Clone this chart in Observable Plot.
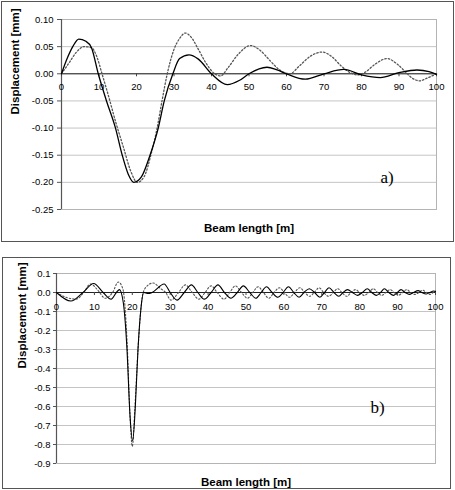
<!DOCTYPE html>
<html>
<head>
<meta charset="utf-8">
<script src="https://cdn.jsdelivr.net/npm/d3@7"></script>
<script src="https://cdn.jsdelivr.net/npm/@observablehq/plot@0.6"></script>
<style>
  body { margin: 0; background: #fff; }
  .panel { position: absolute; border: 1px solid #555; background: #fff; }
  .panel svg { display: block; }
</style>
</head>
<body>
<div id="pa" class="panel" style="left:1px;top:1px;width:451px;height:239px;"></div>
<div id="pb" class="panel" style="left:2px;top:257px;width:447px;height:230px;"></div>
<script>
// ---------- shared ----------
const xTicks = [0, 10, 20, 30, 40, 50, 60, 70, 80, 90, 100];
const xTickLabels = ["0", "10", "20", "30", "40", "50", "60", "70", "80", "90", "100"];
const xTitle = "Beam length [m]";
const yTitle = "Displacement [mm]";

// ---------- panel a ----------
const yTicksA = [0.10, 0.05, 0.00, -0.05, -0.10, -0.15, -0.20, -0.25];
const yTickLabelsA = ["0.10", "0.05", "0.00", "-0.05", "-0.10", "-0.15", "-0.20", "-0.25"];
const tagA = "a)";
// solid series [x, displacement]
const solidA = [
  [0, 0], [1.5, 0.028], [3, 0.05], [4.6, 0.064], [6.5, 0.06], [8, 0.048], [9.8, 0],
  [12, -0.05], [14.4, -0.1], [16.2, -0.15], [17.8, -0.185], [19.3, -0.2], [21.3, -0.19],
  [23.6, -0.15], [25.8, -0.1], [27.4, -0.05], [29.7, 0], [31.5, 0.028], [34, 0.035],
  [36.5, 0.027], [40, 0], [44.2, -0.02], [47.5, -0.012], [50, 0], [54.8, 0.012],
  [57.5, 0.007], [60, 0], [65, -0.01], [70, 0], [75.3, 0.008], [80, -0.002], [85, -0.007],
  [90, 0.002], [94.8, 0.007], [98, 0.004], [100, -0.001]
];
// dotted series
const dottedA = [
  [0, 0], [2, 0.02], [4, 0.04], [6, 0.05], [8, 0.048], [9.5, 0.03], [10.8, 0],
  [12.5, -0.04], [14.5, -0.09], [16.5, -0.135], [18.5, -0.18], [20.2, -0.2], [22, -0.19],
  [24, -0.145], [25.5, -0.1], [26.8, -0.05], [28.2, 0], [30, 0.045], [31.5, 0.065],
  [33, 0.075], [34.5, 0.068], [36.5, 0.045], [38.5, 0.02], [40.5, 0.002], [42.4, -0.004],
  [44.5, 0.012], [47, 0.035], [50.4, 0.052], [53, 0.043], [55.5, 0.025], [58, 0.008],
  [60.9, 0], [63.5, 0.015], [66.5, 0.033], [69.5, 0.04], [72, 0.032], [74.5, 0.015],
  [77, 0.002], [79, -0.002], [81, 0.003], [83.5, 0.017], [86.8, 0.028], [89.5, 0.018],
  [91.5, 0.005], [93.5, -0.008], [95.5, -0.013], [97.5, -0.008], [100, 0]
];

// ---------- panel b ----------
const yTicksB = [0.1, 0.0, -0.1, -0.2, -0.3, -0.4, -0.5, -0.6, -0.7, -0.8, -0.9];
const yTickLabelsB = ["0.1", "0.0", "-0.1", "-0.2", "-0.3", "-0.4", "-0.5", "-0.6", "-0.7", "-0.8", "-0.9"];
const tagB = "b)";
const solidB = [
  [0, 0], [3.8, -0.045], [7, 0], [9.8, 0.047], [12.3, 0], [14.4, -0.035], [15.8, 0],
  [16.6, 0.015], [17.6, -0.05], [18.6, -0.3], [19.4, -0.65], [20.1, -0.78], [20.8, -0.6],
  [21.5, -0.3], [22.3, -0.08], [23, 0], [24.2, -0.005], [25.2, 0], [28.4, 0.045],
  [30, 0], [31.8, -0.04], [33.7, 0], [35.6, 0.04], [37.3, 0], [39, -0.035], [40.8, 0],
  [42.6, 0.04], [44.3, 0], [46, -0.03], [47.7, 0], [49.3, 0.035], [51, 0], [52.6, -0.03],
  [54, 0], [55.4, 0.03], [56.9, 0], [58.4, -0.025], [59.8, 0], [61.2, 0.03], [62.6, 0],
  [64, -0.025], [65.3, 0], [66.7, 0.02], [68.1, 0], [69.5, -0.025], [70.7, 0], [71.9, 0.025],
  [73.2, 0], [74.5, -0.02], [75.6, 0], [76.8, 0.015], [78.1, 0], [79.4, -0.015], [80.7, 0],
  [82, 0.02], [83.2, 0], [84.4, -0.015], [85.5, 0], [86.5, 0.02], [87.7, 0], [88.9, -0.015],
  [89.9, 0], [90.9, 0.015], [92, 0], [93.1, -0.01], [94.2, 0], [95.4, 0.01], [96.4, 0],
  [97.5, -0.008], [98.5, 0], [99.5, 0.008], [100, 0.005]
];
const dottedB = [
  [0, 0], [2.5, -0.025], [5.2, -0.035], [7, -0.005], [9, 0.045], [11, 0.01], [12.8, -0.03],
  [14.8, 0], [16.3, 0.055], [17.5, 0.02], [18.6, -0.25], [19.4, -0.65], [20, -0.81],
  [20.7, -0.6], [21.5, -0.3], [22.4, -0.06], [23.3, 0.02], [25.5, 0.05], [27.5, 0.02],
  [28.8, 0], [30.2, -0.04], [32.2, 0], [34, 0.04], [35.8, 0], [37.6, -0.035], [39.2, 0],
  [40.8, 0.035], [42.4, 0], [44.2, -0.035], [45.7, 0], [47.2, 0.035], [48.8, 0],
  [50.4, -0.03], [51.8, 0], [53.2, 0.03], [54.6, 0], [56, -0.03], [57.4, 0], [58.8, 0.025],
  [60.1, 0], [61.5, -0.025], [62.8, 0], [64.2, 0.025], [65.5, 0], [66.8, -0.02], [68, 0],
  [69.3, 0.025], [70.5, 0], [71.8, -0.02], [73, 0], [74.2, 0.02], [75.3, 0], [76.6, -0.02],
  [77.7, 0], [78.9, 0.015], [80, 0], [81.2, -0.015], [82.4, 0], [83.6, 0.02], [84.7, 0],
  [85.8, -0.015], [86.9, 0], [88, 0.015], [89.1, 0], [90.2, -0.015], [91.3, 0],
  [92.4, 0.015], [93.5, 0], [94.6, -0.01], [95.6, 0], [96.6, 0.012], [97.6, 0],
  [98.6, -0.01], [99.4, 0], [100, 0.008]
];

function panel(cfg) {
  const yLab = new Map(cfg.yTicks.map((t, i) => [t, cfg.yLabels[i]]));
  const xLab = new Map(xTicks.map((t, i) => [t, xTickLabels[i]]));
  return Plot.plot({
    width: cfg.width,
    height: cfg.height,
    marginLeft: cfg.ml,
    marginRight: cfg.mr,
    marginTop: cfg.mt,
    marginBottom: cfg.mb,
    style: { fontFamily: "'Liberation Sans', Arial, sans-serif", fontSize: "9.5px", background: "#fff", color: "#000" },
    x: { domain: [0, 100], axis: null },
    y: { domain: cfg.yDomain },
    marks: [
      Plot.ruleY(cfg.yTicks, { stroke: "#c4c4c4", strokeWidth: 1 }),
      Plot.frame({ stroke: "#b4b4b4" }),
      Plot.axisY(cfg.yTicks, {
        tickSize: cfg.tickSize, tickPadding: cfg.tickPadding, label: null,
        tickFormat: (d) => yLab.get(d), stroke: "#555", fill: "#000", fontSize: 9.5
      }),
      Plot.ruleX([0], { stroke: "#555", strokeWidth: 1.2 }),
      Plot.ruleY([0], { stroke: "#222", strokeWidth: 1 }),
      Plot.ruleX(xTicks, { x: (d) => d, y1: 0, y2: 0, insetBottom: -3, stroke: "#444" }),
      Plot.text(xTicks, { x: (d) => d, y: 0, dy: cfg.xLabelDy, text: (d) => xLab.get(d), fill: "#000", fontSize: 9.5 }),
      Plot.line(cfg.dotted, { x: (d) => d[0], y: (d) => d[1], curve: "monotone-x", stroke: "#555", strokeWidth: cfg.lw, strokeDasharray: "1.5,2" }),
      Plot.line(cfg.solid, { x: (d) => d[0], y: (d) => d[1], curve: "monotone-x", stroke: "#000", strokeWidth: cfg.lw }),
      Plot.text([xTitle], { frameAnchor: "bottom", dy: cfg.xTitleDy, text: (d) => d, fontWeight: "bold", fontSize: 11.5, fill: "#000" }),
      Plot.text([yTitle], { frameAnchor: "left", dx: cfg.yTitleDx, rotate: -90, text: (d) => d, fontWeight: "bold", fontSize: 11.5, fill: "#000" }),
      Plot.text([cfg.tag], { frameAnchor: "top-left", dx: cfg.tagDx, dy: cfg.tagDy, text: (d) => d, fontFamily: "'Liberation Serif', 'Times New Roman', serif", fontSize: 17, fill: "#000" })
    ]
  });
}

document.getElementById("pa").append(panel({
  width: 451, height: 239, ml: 59, mr: 17, mt: 17, mb: 32,
  yDomain: [-0.25, 0.10], yTicks: yTicksA, yLabels: yTickLabelsA,
  tickSize: 4, tickPadding: 4, xLabelDy: 13, xTitleDy: 22, yTitleDx: -46,
  tag: tagA, tagDx: 319, tagDy: 151, solid: solidA, dotted: dottedA, lw: 1.3
}));

document.getElementById("pb").append(panel({
  width: 447, height: 230, ml: 53, mr: 15, mt: 15, mb: 25,
  yDomain: [-0.9, 0.1], yTicks: yTicksB, yLabels: yTickLabelsB,
  tickSize: 3, tickPadding: 3, xLabelDy: 14, xTitleDy: 22, yTitleDx: -34,
  tag: tagB, tagDx: 314, tagDy: 127, solid: solidB, dotted: dottedB, lw: 1.1
}));
</script>
</body>
</html>
